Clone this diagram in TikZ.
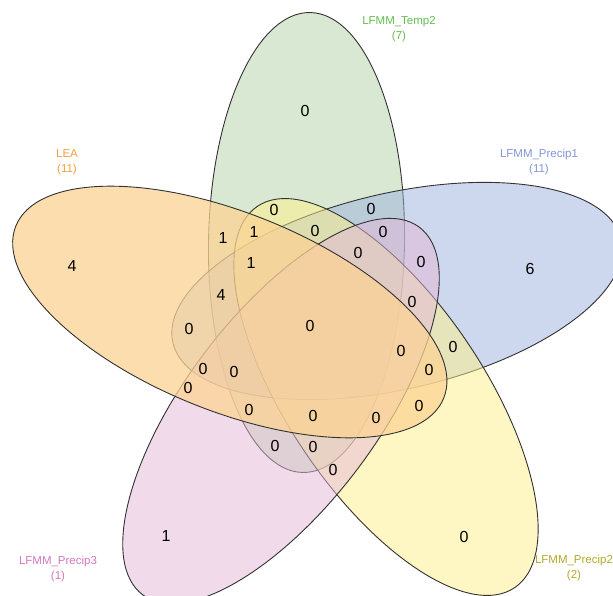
\documentclass[tikz,border=0pt]{standalone}
\usepackage{fontspec}
\setmainfont{Liberation Sans}
\definecolor{fillLEA}{RGB}{252,211,148}
\definecolor{fillTemp}{RGB}{181,211,169}
\definecolor{fillPone}{RGB}{157,177,221}
\definecolor{fillPtwo}{RGB}{255,241,137}
\definecolor{fillPthree}{RGB}{229,185,217}
\definecolor{txtLEA}{RGB}{240,160,60}
\definecolor{txtTemp}{RGB}{100,190,80}
\definecolor{txtPone}{RGB}{130,150,215}
\definecolor{txtPtwo}{RGB}{180,170,40}
\definecolor{txtPthree}{RGB}{210,120,190}
\definecolor{rim}{RGB}{50,50,50}
\tikzset{
  vennset/.style={draw=rim, line width=0.9pt, fill opacity=0.5},
  topset/.style={draw=rim, line width=0.9pt, fill opacity=0.75},
  count/.style={inner sep=0pt, font=\fontsize{16}{18}\selectfont},
  setname/.style={inner sep=0pt, align=center, font=\fontsize{11.5}{15}\selectfont}
}
\begin{document}
\begin{tikzpicture}[x=1pt,y=-1pt]
\fill[white] (0,0) rectangle (613,596);
\useasboundingbox (0,0) rectangle (613,596);
% the five sets, each a rotated ellipse (LEA drawn last, on top)
\path[vennset, fill=fillTemp, shift={(306.5,242.5)}, rotate=89.1] (0,0) ellipse [x radius=230pt, y radius=98pt];
\path[vennset, fill=fillPone, shift={(397,291)}, rotate=13] (0,0) ellipse [x radius=230pt, y radius=98pt];
\path[vennset, fill=fillPtwo, shift={(386,397)}, rotate=-56] (0,0) ellipse [x radius=230pt, y radius=98pt];
\path[vennset, fill=fillPthree, shift={(281,411)}, rotate=53] (0,0) ellipse [x radius=230pt, y radius=96pt];
\path[topset, fill=fillLEA, shift={(229.8,312)}, rotate=-21.9] (0,0) ellipse [x radius=230.6pt, y radius=99pt];
% set names and sizes
\node[setname, text=txtTemp] (nTemp) at (399,29) {LFMM\_Temp2\\(7)};
\node[setname, text=txtLEA] (nLEA) at (67,162) {LEA\\(11)};
\node[setname, text=txtPone] (nPone) at (539,162) {LFMM\_Precip1\\(11)};
\node[setname, text=txtPthree] (nPthree) at (58,569) {LFMM\_Precip3\\(1)};
\node[setname, text=txtPtwo] (nPtwo) at (574,568) {LFMM\_Precip2\\(2)};
% region counts
\node[count] (c01) at (305,111) {0};
\node[count] (c02) at (72,266) {4};
\node[count] (c03) at (530,269) {6};
\node[count] (c04) at (166,536) {1};
\node[count] (c05) at (464,537) {0};
\node[count] (c06) at (274,210) {0};
\node[count] (c07) at (371,209) {0};
\node[count] (c08) at (223,238) {1};
\node[count] (c09) at (254,232) {1};
\node[count] (c10) at (315,231) {0};
\node[count] (c11) at (383,232) {0};
\node[count] (c12) at (251,263) {1};
\node[count] (c13) at (358,253) {0};
\node[count] (c14) at (421,262) {0};
\node[count] (c15) at (221,295) {4};
\node[count] (c16) at (412,302) {0};
\node[count] (c17) at (189,329) {0};
\node[count] (c18) at (310,326) {0};
\node[count] (c19) at (401,351) {0};
\node[count] (c20) at (453,347) {0};
\node[count] (c21) at (203,369) {0};
\node[count] (c22) at (234,372) {0};
\node[count] (c23) at (429,370) {0};
\node[count] (c24) at (188,388) {0};
\node[count] (c25) at (249,410) {0};
\node[count] (c26) at (313,416) {0};
\node[count] (c27) at (376,418) {0};
\node[count] (c28) at (419,406) {0};
\node[count] (c29) at (275,446) {0};
\node[count] (c30) at (313,447) {0};
\node[count] (c31) at (333,470) {0};
\end{tikzpicture}
\end{document}
